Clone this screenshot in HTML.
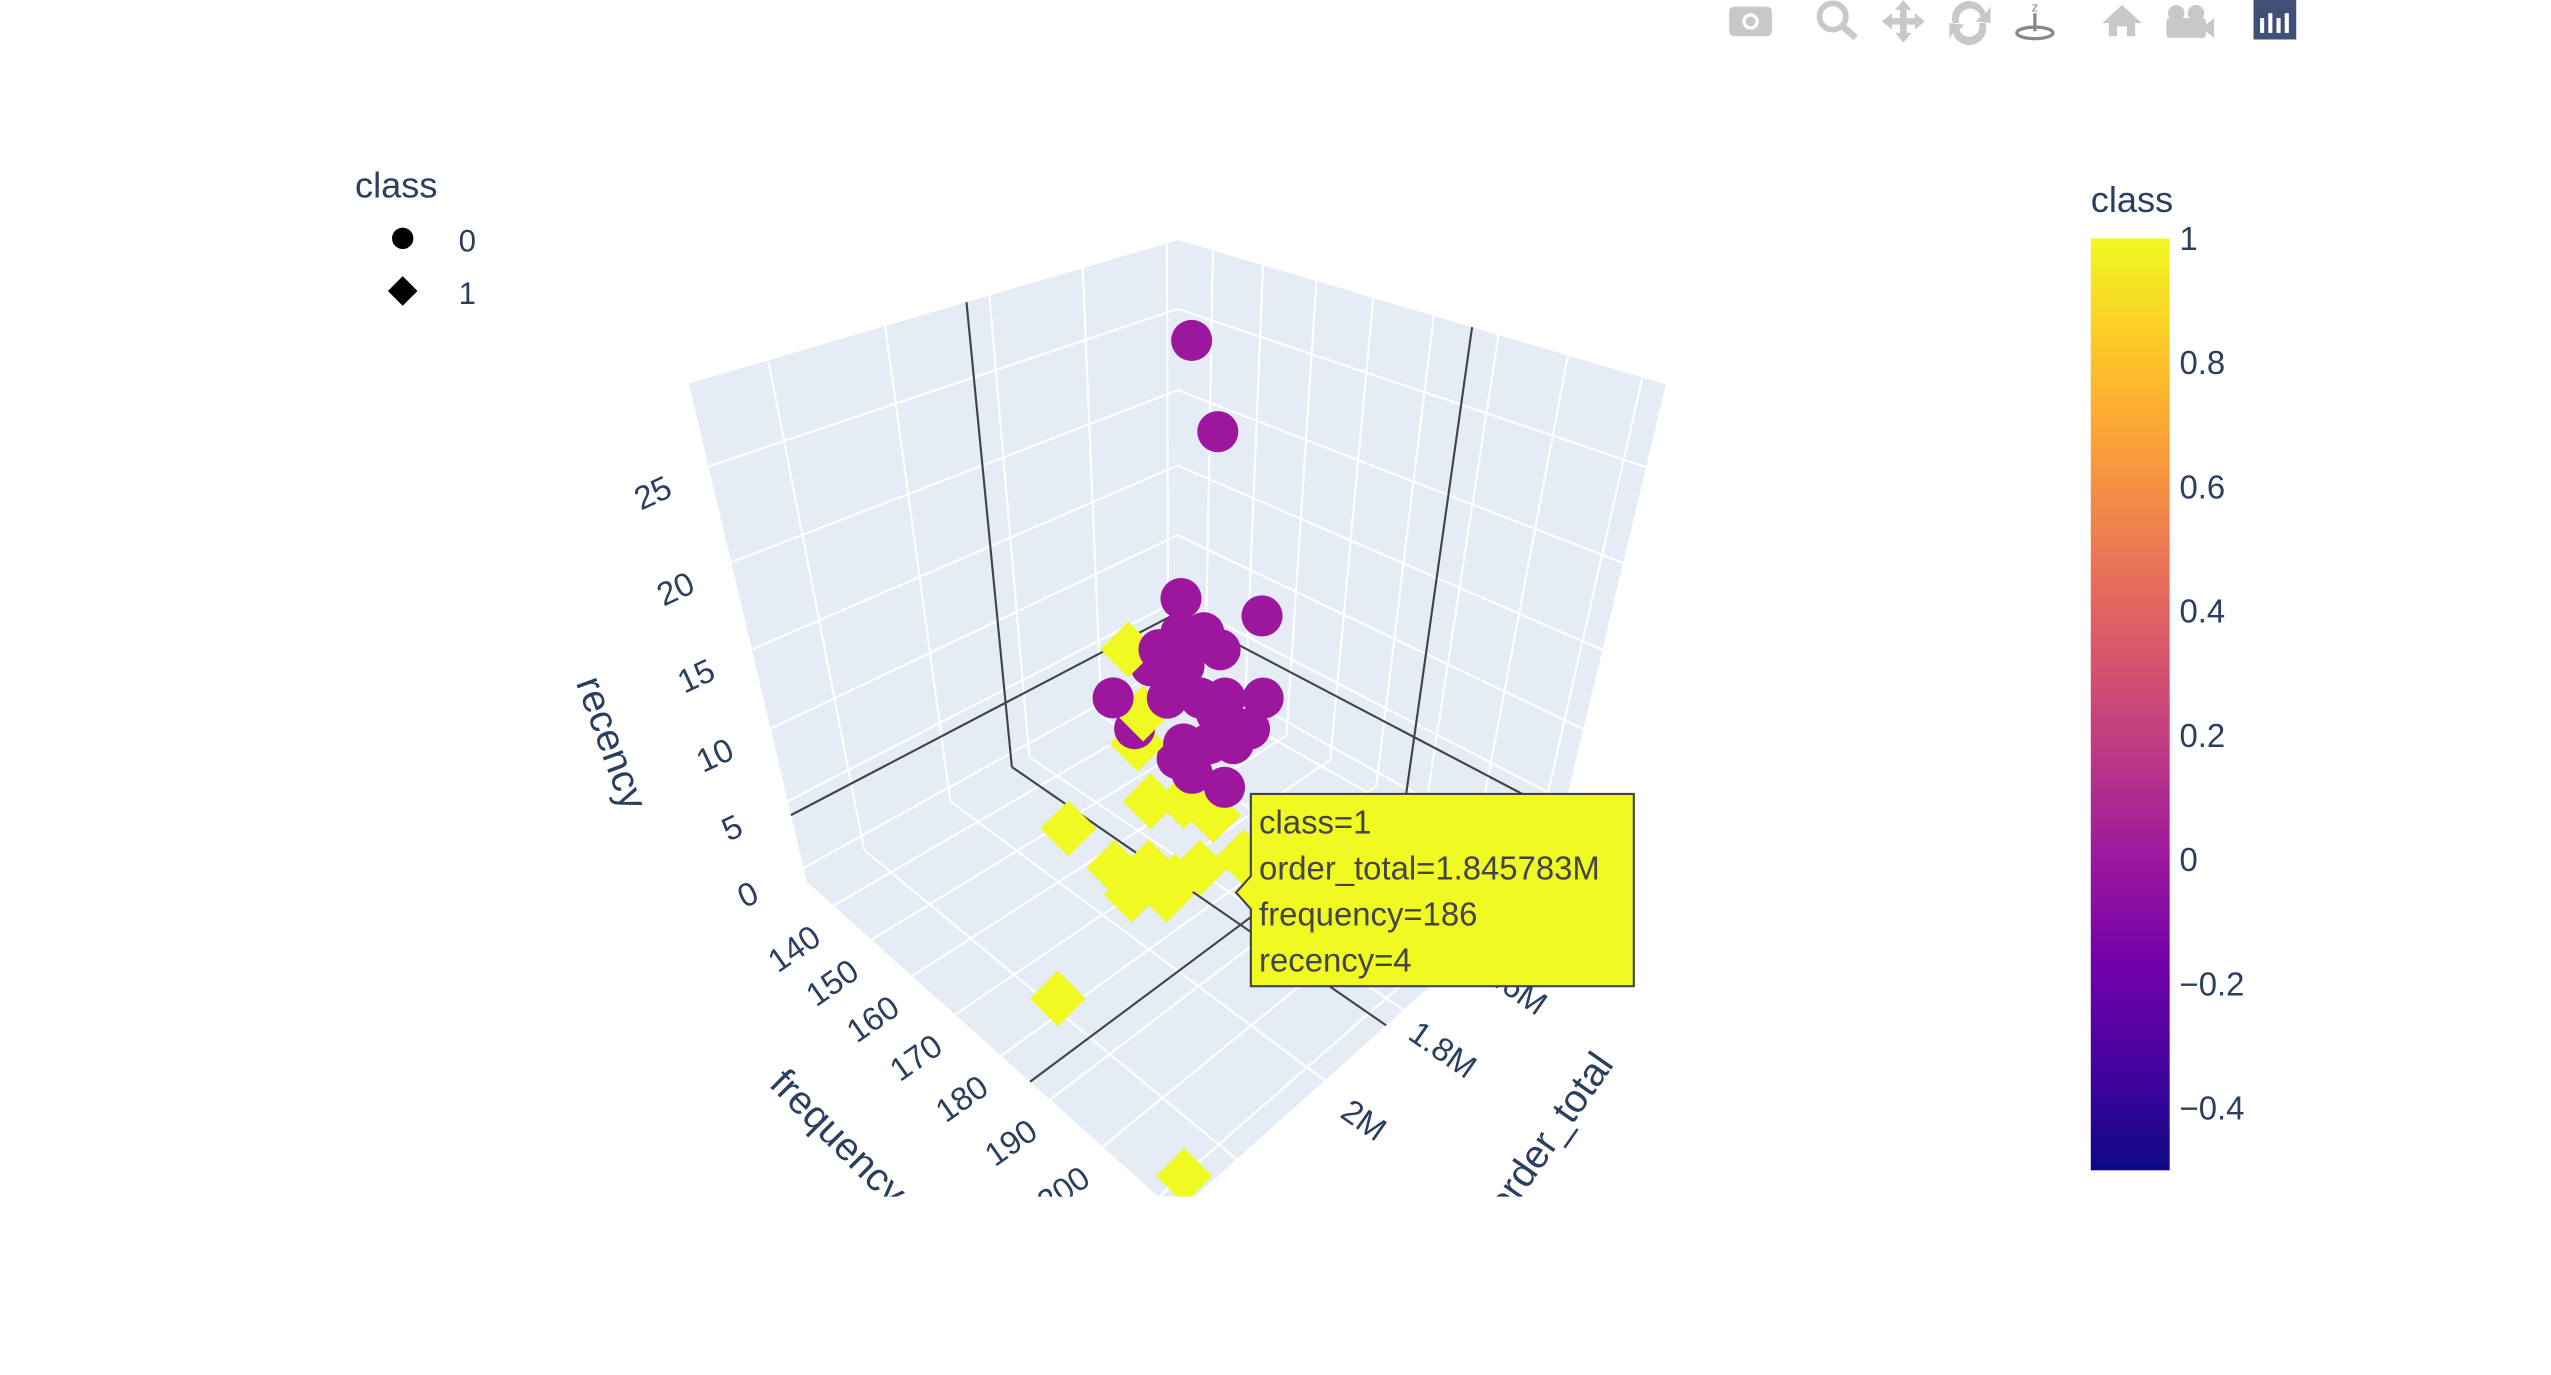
<!DOCTYPE html>
<html><head><meta charset="utf-8"><style>
html,body{margin:0;padding:0;background:#fff;}
svg{display:block;}
text{font-family:"Liberation Sans",Arial,sans-serif;}
</style></head><body>
<svg id="chart" width="2551" height="1375" viewBox="0 0 1552 836.5" xmlns="http://www.w3.org/2000/svg">
<defs>
<linearGradient id="plasma" x1="0" y1="1" x2="0" y2="0">
<stop offset="0" stop-color="#0d0887"/><stop offset="0.111" stop-color="#46039f"/><stop offset="0.222" stop-color="#7201a8"/><stop offset="0.333" stop-color="#9c179e"/><stop offset="0.444" stop-color="#bd3786"/><stop offset="0.556" stop-color="#d8576b"/><stop offset="0.667" stop-color="#ed7953"/><stop offset="0.778" stop-color="#fb9f3a"/><stop offset="0.889" stop-color="#fdca26"/><stop offset="1" stop-color="#f0f921"/>
</linearGradient>
<clipPath id="sceneClip"><rect x="300" y="40" width="940" height="688"/></clipPath>
</defs>
<g id="modebar" fill="#c8c8c8">
<g><rect x="1052" y="4" width="26" height="18" rx="3"/><circle cx="1065" cy="13" r="5" fill="#fff"/><circle cx="1065" cy="13" r="3"/></g>
<g><circle cx="1115" cy="10" r="8" fill="none" stroke="#c8c8c8" stroke-width="3.5"/><line x1="1121" y1="16" x2="1129" y2="23" stroke="#c8c8c8" stroke-width="4"/></g>
<g><path d="M1158 0 L1163 6 H1160 V11 H1165 V8 L1171 13 L1165 18 V15 H1160 V20 H1163 L1158 26 L1153 20 H1156 V15 H1151 V18 L1145 13 L1151 8 V11 H1156 V6 H1153 Z"/></g>
<g><path d="M1188 14 A10 10 0 0 1 1208 8 L1211 4 L1211 14 L1202 13 L1205 10 A6 6 0 0 0 1192 14 Z"/><path d="M1208 14 A10 10 0 0 1 1188 20 L1186 24 L1186 14 L1195 15 L1192 18 A6 6 0 0 0 1204 14 Z"/></g>
<g fill="#888"><text x="1236" y="7" font-size="8" fill="#888">z</text><rect x="1237" y="8" width="2" height="11"/><ellipse cx="1238" cy="20" rx="11" ry="3.5" fill="none" stroke="#888" stroke-width="2"/></g>
<g><path d="M1279 14 L1291 3 L1303 14 H1299 V22 H1294 V16 H1288 V22 H1283 V14 Z"/></g>
<g><circle cx="1324" cy="8" r="5"/><circle cx="1336" cy="8" r="5"/><rect x="1318" y="11" width="24" height="12" rx="2"/><path d="M1342 15 L1347 11 V23 L1342 19 Z"/></g>
<g><rect x="1371" y="0" width="26" height="24" fill="#3f4f75"/><g fill="#fff"><rect x="1375" y="11" width="2.5" height="9"/><rect x="1380" y="8" width="2.5" height="12"/><rect x="1385" y="11" width="2.5" height="9"/><rect x="1390" y="8" width="2.5" height="12"/></g></g>
</g>
<g id="legend">
<text x="216" y="120" font-size="22" fill="#2a3f5f">class</text>
<g><circle cx="245" cy="145" r="6.5" fill="#000"/><text x="279" y="153" font-size="19" fill="#2a3f5f">0</text></g>
<g><path d="M245 168 L254 177 L245 186 L236 177 Z" fill="#000"/><text x="279" y="185" font-size="19" fill="#2a3f5f">1</text></g>
</g>
<g id="colorbar">
<text x="1272" y="129" font-size="22" fill="#2a3f5f">class</text>
<rect x="1272" y="145" width="48" height="567" fill="url(#plasma)"/>
<g id="cbticks"></g>
</g>
<g id="scene" clip-path="url(#sceneClip)"></g>
<g id="tooltip">
<path d="M761 483 H994 V600 H761 V553 L752 543 L761 533 Z" fill="#f0f921" stroke="#444" stroke-width="1.3"/>
<text x="766" y="507" font-size="20" fill="#444">class=1</text>
<text x="766" y="535" font-size="20" fill="#444">order_total=1.845783M</text>
<text x="766" y="563" font-size="20" fill="#444">frequency=186</text>
<text x="766" y="591" font-size="20" fill="#444">recency=4</text>
</g>
</svg>
<script>
// ---- data ----
const class0OrderTotal = [1.594,1.562,1.844,1.755,1.844,1.868,1.818,1.800,1.840,1.877,1.859,1.821,1.793,1.921,1.749,1.897,1.802,1.773,1.763,1.840,1.810,1.781,1.8475,1.790,1.830];
const class0Frequency = [154.1,156.8,173.2,180.7,173.2,171.1,175.3,176.9,173.5,170.3,171.9,175.1,177.5,166.6,181.2,168.6,176.7,179.2,180.0,173.5,176.0,178.4,172.85,177.7,174.4];
const class0Recency = [27,22,18,17,16,15,16,15,14,14,12,12,12,12,12,10,11,10,10,9,9,9,8,6,7];
const class1OrderTotal = [1.902,1.887,1.894,1.880,1.839,1.803,1.982,1.927,1.952,1.921,1.974,1.932,1.818,1.845783,2.218,2.29];
const class1Frequency = [168.2,169.5,168.9,170.1,173.5,176.6,161.4,166.1,176.0,178.7,174.2,177.8,175.3,186,181.7,211.5];
const class1Recency = [15,11,9,5,5,4,3,0,3,2,1,1,0,4,1,0];
const hoverPoint = [1.845783,186,4];
const xTicks = [1.4,1.6,1.8,2.0,2.2];
const xTickLabels = ["1.4M","1.6M","1.8M","2M",""];
const yTicks = [140,150,160,170,180,190,200,210];
const zTicks = [0,5,10,15,20,25];
const cbTicks = [1,0.8,0.6,0.4,0.2,0,-0.2,-0.4];
const cbTickLabels = ["1","0.8","0.6","0.4","0.2","0","\u22120.2","\u22120.4"];

const xRange=[1.372,2.323], yRange=[132.7,213], zRange=[-1.1,28.94];
const NS='http://www.w3.org/2000/svg';
function mk(tag,attrs,parent){const e=document.createElementNS(NS,tag);for(const k in attrs)e.setAttribute(k,attrs[k]);parent.appendChild(e);return e;}

// ---- projective camera fitted to box corners (DLT) ----
const refs=[[-1,-1,1,717,146],[1,-1,1,419,233.6],[-1,1,1,1013.5,234.2],[1,1,1,716,396],
 [-1,-1,-1,716,410],[1,-1,-1,491,536.5],[-1,1,-1,941,536.5],[1,1,-1,716,738]];
const A=[],B=[];
refs.forEach(r=>{const [X,Y,Z,u,v]=r;
 A.push([X,Y,Z,1,0,0,0,0,-u*X,-u*Y,-u*Z]);B.push(u);
 A.push([0,0,0,0,X,Y,Z,1,-v*X,-v*Y,-v*Z]);B.push(v);});
const N=11,M=[];
for(let i=0;i<N;i++){M.push([]);for(let j=0;j<=N;j++){let s=0;
 for(let k=0;k<A.length;k++)s+=A[k][i]*(j<N?A[k][j]:B[k]);M[i].push(s);}}
for(let i=0;i<N;i++){let p=i;for(let k=i+1;k<N;k++)if(Math.abs(M[k][i])>Math.abs(M[p][i]))p=k;
 [M[i],M[p]]=[M[p],M[i]];for(let k=0;k<N;k++){if(k===i)continue;const f=M[k][i]/M[i][i];for(let j=i;j<=N;j++)M[k][j]-=f*M[i][j];}}
const P=M.map((r,i)=>r[N]/r[i]);
function projN(X,Y,Z){const w=P[8]*X+P[9]*Y+P[10]*Z+1;
 return [(P[0]*X+P[1]*Y+P[2]*Z+P[3])/w,(P[4]*X+P[5]*Y+P[6]*Z+P[7])/w,w];}
const farSign=(projN(-1,-1,-1)[2]>projN(1,1,-1)[2])?1:-1;
function nx(v){return 2*(v-xRange[0])/(xRange[1]-xRange[0])-1;}
function ny(v){return 2*(v-yRange[0])/(yRange[1]-yRange[0])-1;}
function nz(v){return 2*(v-zRange[0])/(zRange[1]-zRange[0])-1;}
function proj(x,y,z){return projN(nx(x),ny(y),nz(z));}

const scene=document.getElementById('scene');
function poly(pts,attrs,name){const el=mk('polygon',Object.assign({points:pts.map(p=>p[0].toFixed(1)+','+p[1].toFixed(1)).join(' ')},attrs),scene);
 
 return el;}
function line(a,b,attrs,name){const el=mk('line',Object.assign({x1:a[0].toFixed(1),y1:a[1].toFixed(1),x2:b[0].toFixed(1),y2:b[1].toFixed(1)},attrs),scene);
 
 return el;}
const wallFill={fill:'#e5ecf6'};
poly([projN(-1,-1,-1),projN(1,-1,-1),projN(1,-1,1),projN(-1,-1,1)],wallFill,'left-wall');
poly([projN(-1,-1,-1),projN(-1,1,-1),projN(-1,1,1),projN(-1,-1,1)],wallFill,'right-wall');
poly([projN(-1,-1,-1),projN(1,-1,-1),projN(1,1,-1),projN(-1,1,-1)],wallFill,'floor');
const g={stroke:'#fff','stroke-width':1.3};
xTicks.forEach(t=>{const X=nx(t);if(X<-1||X>1)return;line(projN(X,-1,-1),projN(X,-1,1),g,'grid-x-left-wall');line(projN(X,-1,-1),projN(X,1,-1),g,'grid-x-floor');});
yTicks.forEach(t=>{const Y=ny(t);if(Y<-1||Y>1)return;line(projN(-1,Y,-1),projN(-1,Y,1),g,'grid-y-right-wall');line(projN(-1,Y,-1),projN(1,Y,-1),g,'grid-y-floor');});
zTicks.forEach(t=>{const Z=nz(t);line(projN(-1,-1,Z),projN(1,-1,Z),g,'grid-z-left-wall');line(projN(-1,-1,Z),projN(-1,1,Z),g,'grid-z-right-wall');});
// spikes
const sp={stroke:'#444','stroke-width':1.3};
const hx=nx(hoverPoint[0]),hy=ny(hoverPoint[1]),hz=nz(hoverPoint[2]);
line(projN(hx,-1,-1),projN(hx,-1,1),sp,'spike-line');line(projN(-1,-1,hz),projN(1,-1,hz),sp,'spike-line');
line(projN(-1,hy,-1),projN(-1,hy,1),sp,'spike-line');line(projN(-1,-1,hz),projN(-1,1,hz),sp,'spike-line');
line(projN(hx,-1,-1),projN(hx,1,-1),sp,'spike-line');line(projN(-1,hy,-1),projN(1,hy,-1),sp,'spike-line');
// tick labels
function txt(p,str,rot,size,name){const el=mk('text',{x:p[0].toFixed(1),y:p[1].toFixed(1),'font-size':size,fill:'#2a3f5f','text-anchor':'middle','dominant-baseline':'central',transform:`rotate(${rot} ${p[0].toFixed(1)} ${p[1].toFixed(1)})`},scene);
 el.textContent=str;
 
 }
zTicks.forEach(t=>{const p=projN(1,-1,nz(t));txt([p[0]-34,p[1]+16],String(t),-25,20,'z-tick-label');});
yTicks.forEach(t=>{const Y=ny(t);if(Y<-1||Y>1)return;const p=projN(1,Y,-1);txt([p[0]-24,p[1]+26],String(t),-35,20,'y-tick-label');});
xTicks.forEach((t,i)=>{const X=nx(t);if(X<-1||X>1||!xTickLabels[i])return;const p=projN(X,1,-1);txt([p[0]+24,p[1]+24],xTickLabels[i],35,20,'x-tick-label');});
txt([372,452],'recency',70,24,'z-axis-title');
txt([510,692],'frequency',45,24,'y-axis-title');
txt([943,690],'order_total',-55,24,'x-axis-title');
// markers
const marks=[];
class0OrderTotal.forEach((v,i)=>marks.push({p:proj(v,class0Frequency[i],class0Recency[i]),c:0}));
class1OrderTotal.forEach((v,i)=>marks.push({p:proj(v,class1Frequency[i],class1Recency[i]),c:1}));
marks.sort((a,b)=>farSign*(b.p[2]-a.p[2]));
marks.forEach(m=>{let el;const x=m.p[0],y=m.p[1];
 if(m.c===0){el=mk('circle',{cx:x.toFixed(1),cy:y.toFixed(1),r:12.5,fill:'#9c179e'},scene);
  }
 else{const r=17;el=mk('path',{d:`M${x.toFixed(1)} ${(y-r).toFixed(1)} L${(x+r).toFixed(1)} ${y.toFixed(1)} L${x.toFixed(1)} ${(y+r).toFixed(1)} L${(x-r).toFixed(1)} ${y.toFixed(1)} Z`,fill:'#f0f921'},scene);
  }
 });
// colorbar ticks
const cbg=document.getElementById('cbticks');
cbTicks.forEach((t,i)=>{const y=712-(t+0.5)/1.5*567;const el=mk('text',{x:1326,y:(y+7).toFixed(1),'font-size':20,fill:'#2a3f5f'},cbg);
 el.textContent=cbTickLabels[i];
 
 });
</script>
</body></html>
